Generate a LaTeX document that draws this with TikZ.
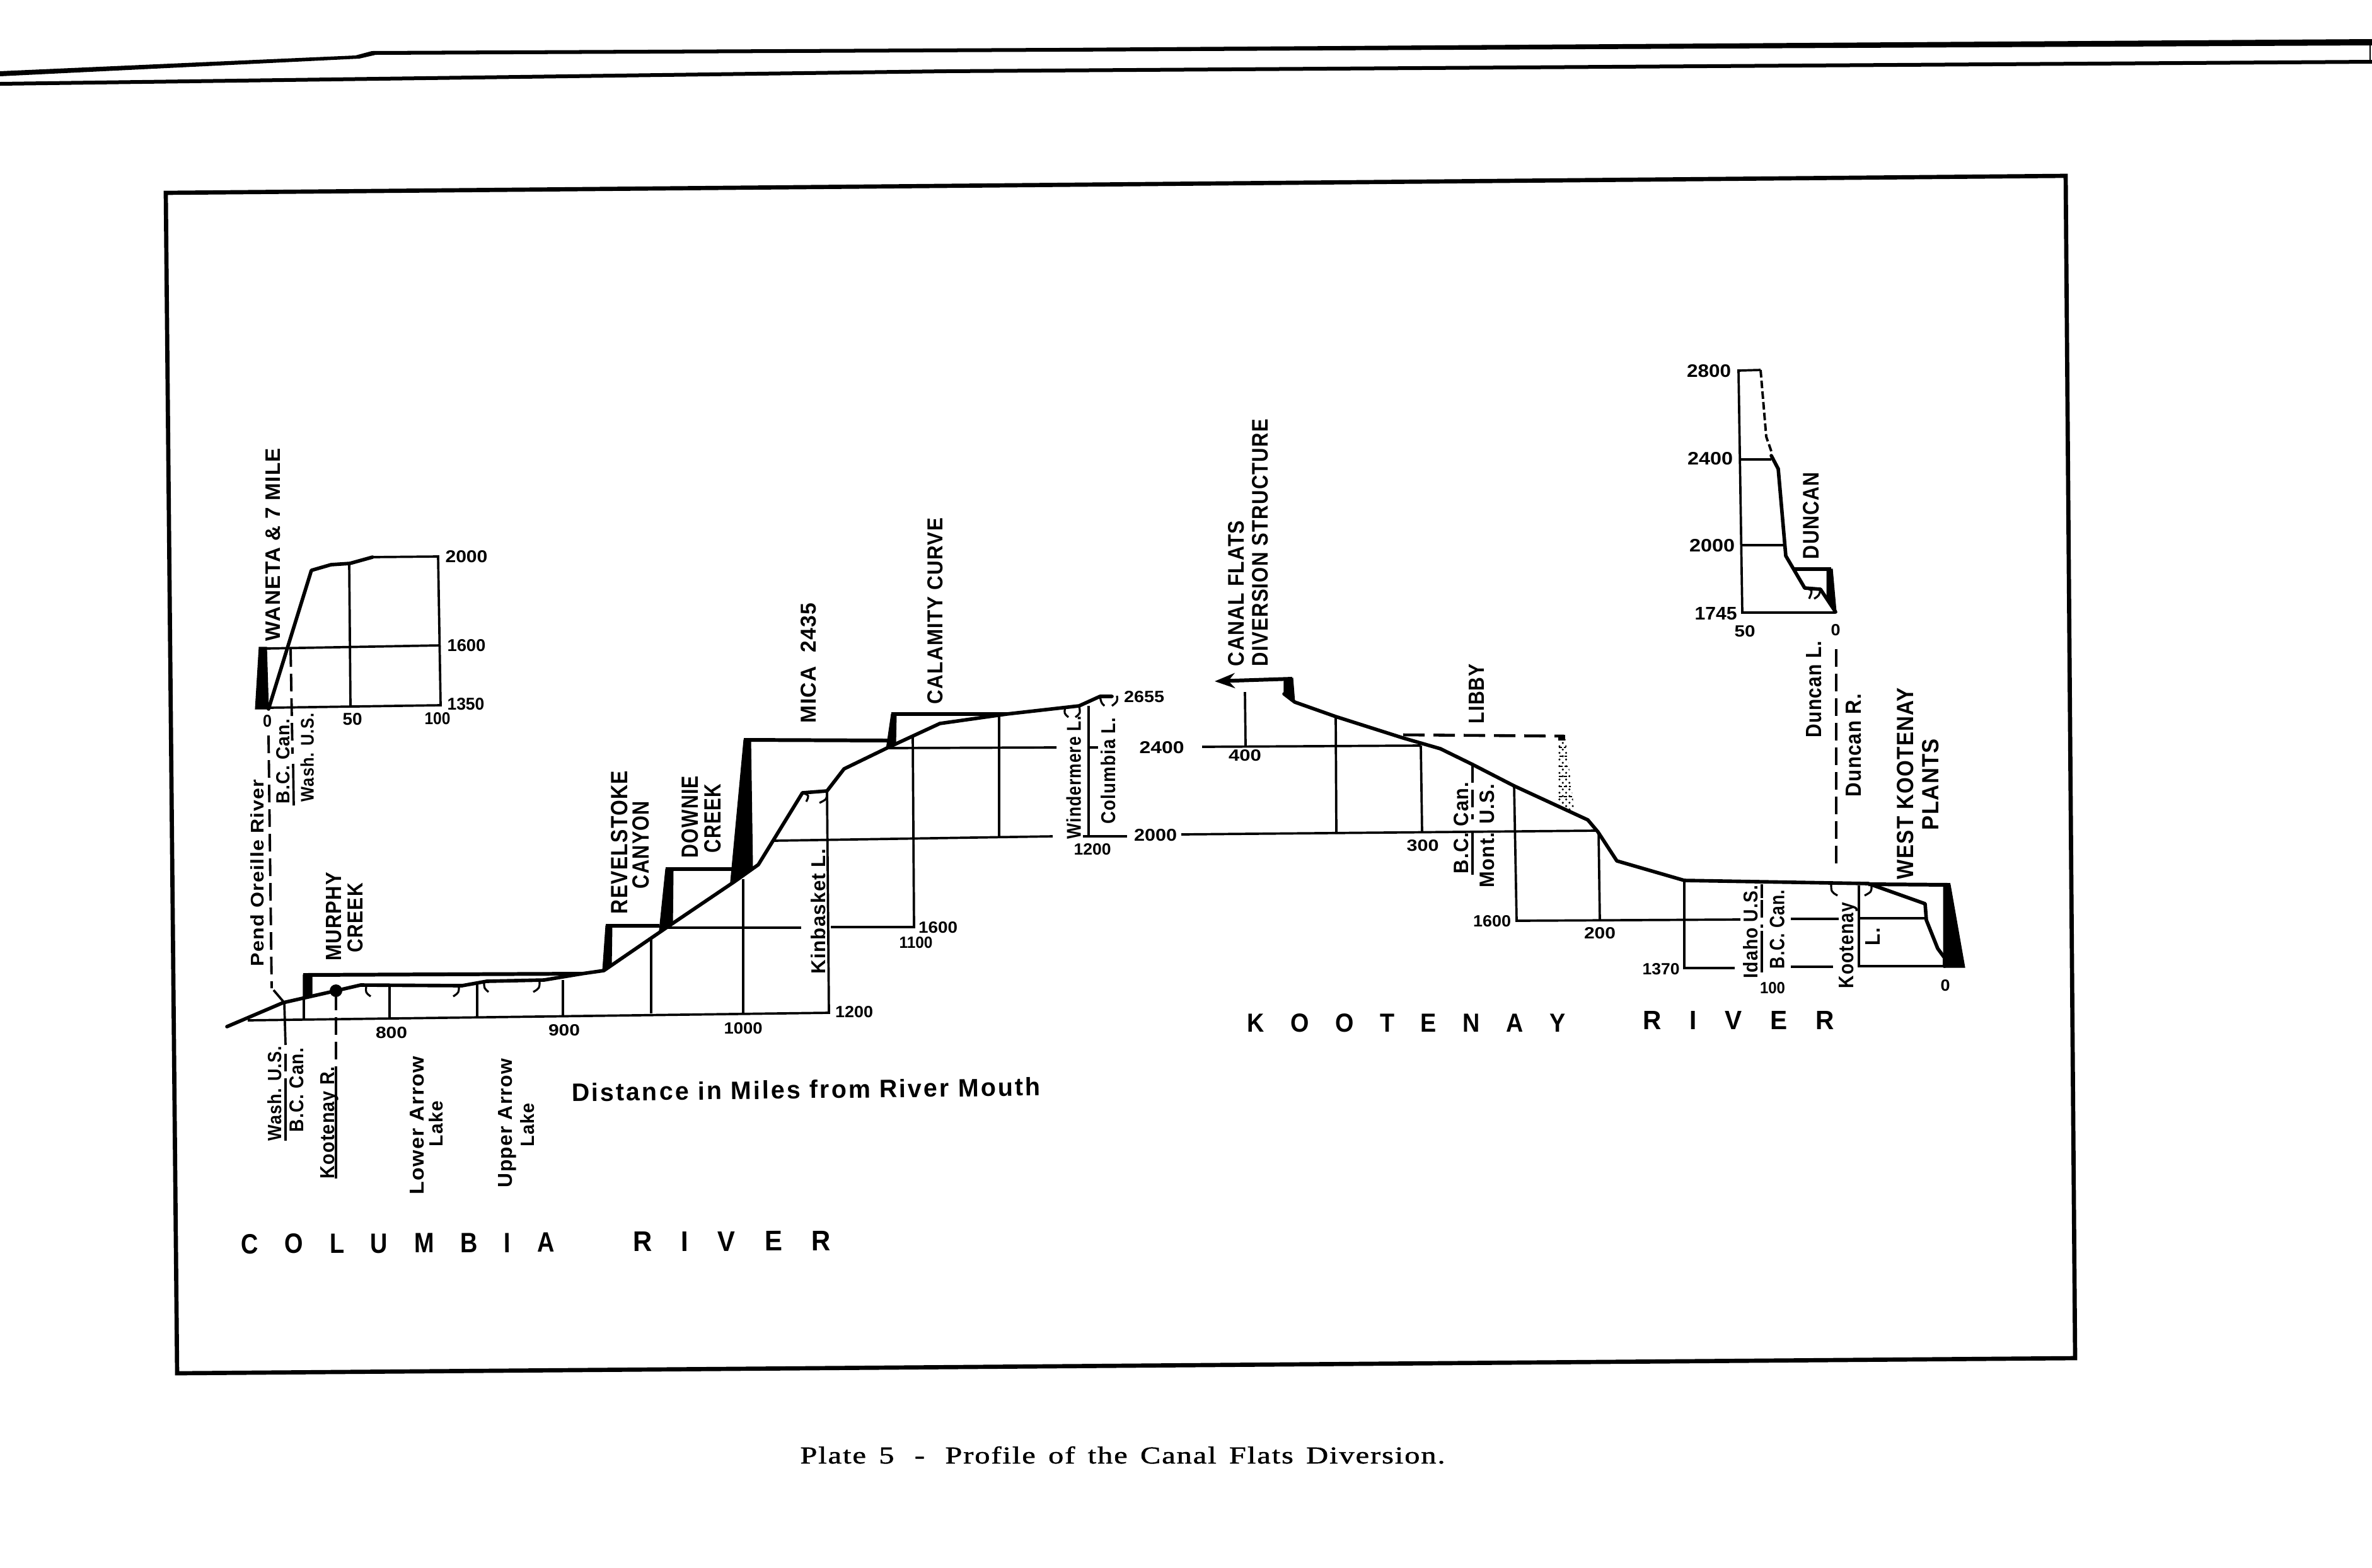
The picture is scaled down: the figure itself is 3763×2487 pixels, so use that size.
\documentclass[tikz,border=0pt]{standalone}
\usepackage{fontspec}
\setmainfont{Liberation Sans}
\newfontfamily\capfont[FakeBold=1.2,LetterSpace=4]{Liberation Serif}
\usetikzlibrary{patterns,arrows.meta}
\newcommand\vt[6]{% name, x centre, y top, y bottom, height, text
  \pgfmathsetlengthmacro\lenA{(#4-#3)*0.01cm}\pgfmathsetlengthmacro\lenB{#5*0.01cm}
  \node[lab,rotate=90] (#1) at ({#2+#5/2},{(#3+#4)/2}) {\resizebox{\lenA}{\lenB}{\bfseries\addfontfeature{LetterSpace=4}#6}};}
\newcommand\hz[6]{% name, x centre, y centre, width, height, text
  \pgfmathsetlengthmacro\lenA{#4*0.01cm}\pgfmathsetlengthmacro\lenB{#5*0.01cm}
  \node[lab] (#1) at (#2,{#3+#5/2}) {\resizebox{\lenA}{\lenB}{\bfseries #6}};}
\tikzset{
  lab/.style={anchor=base,inner sep=0pt,outer sep=0pt,text=black},
  riverline/.style={line width=1.6pt,line join=round,line cap=round},
  topline/.style={line width=1.7pt,line join=round},
  grid/.style={line width=1.05pt},
  dashline/.style={line width=1.1pt,dash pattern=on 0.28cm off 0.11cm},
  hook/.style={line width=.9pt},
  dam/.style={fill=black,draw=black,line width=.3pt},
}
\begin{document}
\begin{tikzpicture}[x=0.01cm,y=-0.01cm]
\useasboundingbox (0,0) rectangle (3763,2487);
\fill[white] (0,0) rectangle (3763,2487);
% page edge strips
\fill (0,113) -- (564,88) -- (590,81) -- (1680,76) -- (3763,62) -- (3763,72) -- (1680,82) -- (596,87) -- (570,93) -- (0,121) -- cycle;
\fill (0,130) -- (1500,110) -- (3763,95) -- (3763,101) -- (1500,116) -- (0,136) -- cycle;
\draw[line width=.5pt] (3760,70) -- (3760,98);
% frame
\draw[line width=1.9pt] (263,306) -- (3277,279) -- (3292,2155) -- (281,2179) -- cycle;

%% Waneta inset
\fill[dam] (411,1027) -- (423,1027) -- (426,1125) -- (405,1125) -- cycle;
\draw[grid] (426,1123) -- (699,1119) -- (695,883) -- (591,884);
\draw[riverline] (426,1125) -- (494,905) -- (525,896) -- (555,894) -- (591,884);
\draw[grid] (423,1029) -- (699,1024);
\draw[grid] (554,894) -- (556,1120);
\draw[dashline] (461,1030) -- (464,1196);
\draw[grid] (465,1212) -- (466,1278);
\draw[dashline] (426,1167) -- (431,1568);
\draw[grid] (434,1571) -- (451,1591);
\hz{w0}{424}{1144}{14}{19}{0}
\hz{w50}{559}{1141}{31}{19}{50}
\hz{w100}{694}{1140}{41}{19}{100}
\hz{w2000}{740}{883}{67}{19}{2000}
\hz{w1600}{740}{1024}{61}{19}{1600}
\hz{w1350}{739}{1117}{59}{19}{1350}
\vt{waneta}{432.5}{711}{1017}{23}{WANETA \& 7 MILE}
\vt{bcu}{449}{1141}{1275}{21}{B.C. Can.}
\vt{wau}{487}{1131}{1272}{21}{Wash. U.S.}
\vt{pend}{408}{1237}{1533}{21}{Pend Oreille River}

%% Columbia main
\draw[grid] (393,1619) -- (1315,1607) -- (1312,1255);
\draw[grid] (451,1591) -- (453,1658);
\draw[dashline] (453,1672) -- (453,1729);
\draw[grid] (453,1729) -- (453,1810);
\draw[grid] (482,1584) -- (482,1618);
\draw[dashline] (533,1575) -- (533,1720);
\draw[grid] (533,1720) -- (533,1870);
\draw[grid] (618,1566) -- (618,1615);
\draw[grid] (757,1558) -- (757,1613);
\draw[grid] (893,1555) -- (893,1611);
\draw[grid] (1033,1488) -- (1033,1608);
\draw[grid] (1179,1395) -- (1179,1607);
\draw[grid] (1057,1472) -- (1271,1472);
\draw[grid] (1318,1471) -- (1450,1471) -- (1448,1168);
\draw[grid] (1227,1334) -- (1670,1327);
\draw[grid] (1718,1327) -- (1788,1327);
\draw[grid] (1409,1187) -- (1676,1186);
\draw[grid] (1727,1186) -- (1742,1186);
\draw[grid] (1585,1136) -- (1585,1327);
\draw[grid] (1727,1120) -- (1727,1327);
% dams
\fill[dam] (481,1547) -- (495,1547) -- (495,1578) -- (481,1584) -- cycle;
\fill[dam] (961,1469) -- (971,1469) -- (970,1530) -- (956,1540) -- cycle;
\fill[dam] (1056,1379) -- (1068,1379) -- (1067,1467) -- (1046,1476) -- cycle;
\fill[dam] (1180,1174) -- (1191,1174) -- (1194,1377) -- (1159,1399) -- cycle;
\fill[dam] (1414,1133) -- (1422,1133) -- (1421,1179) -- (1406,1188) -- cycle;
% reservoir tops
\draw[topline] (481,1547) -- (923,1545);
\draw[topline] (961,1469) -- (1046,1469);
\draw[topline] (1056,1379) -- (1161,1379);
\draw[topline] (1180,1174) -- (1408,1175);
\draw[topline] (1414,1133) -- (1597,1133);
% river
\draw[riverline] (360,1629) -- (449,1591) -- (533,1572) -- (572,1563) -- (733,1564) -- (772,1557) -- (863,1555)
  -- (923,1545) -- (958,1540) -- (1060,1470) -- (1165,1399) -- (1203,1372) -- (1273,1258) -- (1312,1255)
  -- (1339,1220) -- (1409,1186) -- (1491,1148) -- (1597,1133) -- (1712,1120) -- (1745,1105) -- (1764,1105);
\fill (533,1572) circle (10);
% lake hooks
\draw[hook] (581,1565) .. controls (580,1575) .. (588,1581);
\draw[hook] (728,1565) .. controls (728,1575) .. (719,1581);
\draw[hook] (768,1559) .. controls (768,1568) .. (775,1574);
\draw[hook] (856,1557) .. controls (856,1568) .. (846,1574);
\draw[hook] (1273,1258) .. controls (1284,1262) .. (1279,1272);
\draw[hook] (1312,1256) .. controls (1312,1268) .. (1300,1274);
\draw[hook] (1690,1122) .. controls (1688,1132) .. (1695,1138);
\draw[hook] (1712,1120) .. controls (1714,1132) .. (1706,1138);
\draw[hook] (1745,1105) .. controls (1747,1115) .. (1752,1120);
\draw[hook] (1772,1104) .. controls (1773,1113) .. (1764,1120);
% labels
\hz{c800}{621}{1638}{50}{18}{800}
\hz{c900}{895}{1634}{50}{18}{900}
\hz{c1000}{1179}{1631}{61}{18}{1000}
\hz{c1200}{1355}{1605}{60}{18}{1200}
\hz{c1600}{1488}{1471}{62}{18}{1600}
\hz{c1100}{1453}{1495}{53}{18}{1100}
\hz{c2655}{1815}{1105}{64}{18}{2655}
\hz{c1200b}{1733}{1347}{59}{18}{1200}
\hz{c2400}{1843}{1186}{71}{19}{2400}
\hz{c2000}{1833}{1325}{68}{19}{2000}
\vt{murphy}{529}{1384}{1524}{24}{MURPHY}
\vt{creek}{563}{1401}{1511}{24}{CREEK}
\vt{revel}{982}{1223}{1450}{26}{REVELSTOKE}
\vt{canyon}{1016}{1271}{1410}{26}{CANYON}
\vt{downie}{1094}{1231}{1361}{26}{DOWNIE}
\vt{creekb}{1130}{1244}{1353}{26}{CREEK}
\vt{mica}{1282}{957}{1147}{24}{MICA\ \ 2435}
\vt{calam}{1483}{822}{1117}{24}{CALAMITY CURVE}
\vt{kinb}{1298}{1347}{1545}{23}{Kinbasket L.}
\vt{wind}{1703}{1136}{1331}{23}{Windermere L.}
\vt{coll}{1758}{1139}{1307}{23}{Columbia L.}
\vt{wush}{435}{1660}{1810}{22}{Wash. U.S.}
\vt{bcl}{470}{1663}{1796}{22}{B.C. Can.}
\vt{kootr}{519}{1692}{1870}{22}{Kootenay R.}
\vt{lowa}{661}{1676}{1895}{22}{Lower Arrow}
\vt{lowl}{691}{1747}{1819}{22}{Lake}
\vt{upa}{801}{1680}{1884}{22}{Upper Arrow}
\vt{upl}{836}{1750}{1819}{22}{Lake}
\pgfmathsetlengthmacro\lenA{744*0.01cm}\pgfmathsetlengthmacro\lenB{29*0.01cm}
\node[lab,rotate=0.7] (dist) at (1279,1743) {\resizebox{\lenA}{\lenB}{\bfseries\addfontfeature{LetterSpace=8}Distance in Miles from River Mouth}};
\pgfmathsetlengthmacro\lenA{497*0.01cm}\pgfmathsetlengthmacro\lenB{31*0.01cm}
\node[lab,rotate=0.3] (colr) at (631,1988) {\resizebox{\lenA}{\lenB}{\bfseries\spaceskip=1.1em C O L U M B I A}};
\pgfmathsetlengthmacro\lenA{313*0.01cm}
\node[lab,rotate=0.3] (rivc) at (1161,1985) {\resizebox{\lenA}{\lenB}{\bfseries\spaceskip=1.1em R I V E R}};

%% Kootenay main
\draw[grid] (1907,1185) -- (2254,1183);
\draw[grid] (1874,1324) -- (2532,1318);
\draw[grid] (1975,1098) -- (1976,1183);
\draw[grid] (2119,1137) -- (2120,1323);
\draw[grid] (2254,1183) -- (2256,1320);
\draw[dashline] (2336,1214) -- (2336,1300);
\draw[grid] (2336,1318) -- (2336,1388);
\draw[grid] (2402,1247) -- (2406,1461) -- (2761,1459);
\draw[grid] (2841,1458) -- (2917,1458);
\draw[grid] (2951,1457) -- (3056,1457);
\draw[grid] (2536,1320) -- (2538,1460);
\draw[grid] (2672,1397) -- (2672,1536) -- (2752,1536);
\draw[grid] (2841,1534) -- (2908,1534);
\draw[grid] (2949,1405) -- (2949,1533) -- (3116,1533);
\draw[grid] (2795,1403) -- (2795,1425);
\draw[dashline] (2795,1428) -- (2795,1472);
\draw[grid] (2795,1477) -- (2795,1543);
% canal flats
\draw[topline,-{Stealth[length=0.32cm,width=0.24cm]}] (2050,1077) -- (1927,1081);
\fill[dam] (2037,1077) -- (2051,1076) -- (2054,1114) -- (2037,1101) -- cycle;
% Libby
\fill[pattern=crosshatch dots,pattern color=black] (2472,1168) -- (2483,1168) -- (2498,1289) -- (2472,1280) -- cycle;
\foreach \yy/\xa/\xb in {1186/2473/2484,1200/2474/2486,1216/2474/2488,1232/2473/2490,1248/2473/2492,1264/2473/2494}
  \draw[line width=.8pt,dash pattern=on 0.05cm off 0.03cm] (\xa,\yy) -- (\xb,\yy);
\fill (2472,1166) rectangle (2483,1175);
\draw[line width=1.3pt,dash pattern=on 0.34cm off 0.14cm] (2226,1166) -- (2481,1168);
% river
\draw[riverline] (2037,1101) -- (2054,1114) -- (2119,1137) -- (2226,1171) -- (2285,1188) -- (2336,1213) -- (2402,1247)
  -- (2519,1301) -- (2535,1320) -- (2565,1366) -- (2672,1397) -- (2964,1402) -- (3054,1434) -- (3056,1460)
  -- (3074,1505) -- (3085,1520) -- (3085,1533);
% West Kootenay
\draw[topline] (2964,1403) -- (3094,1404);
\fill[dam] (3083,1404) -- (3094,1404) -- (3117,1535) -- (3083,1535) -- cycle;
\draw[hook] (2905,1402) .. controls (2905,1415) .. (2915,1421);
\draw[hook] (2969,1406) .. controls (2969,1415) .. (2958,1421);
\draw[dashline] (2913,1030) -- (2913,1378);
% labels
\hz{k400}{1975}{1198}{52}{18}{400}
\hz{k300}{2257}{1341}{51}{18}{300}
\hz{k1600}{2367}{1461}{60}{18}{1600}
\hz{k200}{2538}{1480}{50}{18}{200}
\hz{k1370}{2635}{1537}{59}{18}{1370}
\hz{k100}{2812}{1567}{40}{18}{100}
\hz{k0}{3086}{1563}{15}{18}{0}
\vt{canal}{1961}{826}{1057}{25}{CANAL FLATS}
\vt{divers}{1999}{665}{1057}{25}{DIVERSION STRUCTURE}
\vt{libby}{2342}{1053}{1148}{24}{LIBBY}
\vt{bck}{2318}{1241}{1386}{23}{B.C. Can.}
\vt{mont}{2359}{1244}{1408}{23}{Mont. U.S.}
\vt{idaho}{2777}{1405}{1552}{23}{Idaho U.S.}
\vt{bcr}{2819}{1412}{1537}{23}{B.C. Can.}
\vt{koot}{2929}{1432}{1568}{23}{Kootenay}
\vt{ll}{2971}{1472}{1500}{23}{L.}
\vt{wk}{3022}{1091}{1395}{26}{WEST KOOTENAY}
\vt{plants}{3062}{1172}{1317}{26}{PLANTS}
\pgfmathsetlengthmacro\lenA{505*0.01cm}\pgfmathsetlengthmacro\lenB{29*0.01cm}
\node[lab] (kootr2) at (2231,1637) {\resizebox{\lenA}{\lenB}{\bfseries\spaceskip=1.1em K O O T E N A Y}};
\pgfmathsetlengthmacro\lenA{303*0.01cm}
\node[lab] (rivk) at (2758,1633) {\resizebox{\lenA}{\lenB}{\bfseries\spaceskip=1.1em R I V E R}};

%% Duncan inset
\draw[grid] (2793,587) -- (2758,588) -- (2764,972) -- (2912,972);
\draw[line width=1.1pt,dash pattern=on 0.12cm off 0.05cm] (2793,587) -- (2802,693) -- (2810,716);
\draw[riverline] (2810,723) -- (2821,744) -- (2833,882) -- (2863,933) -- (2888,935) -- (2912,971);
\draw[grid] (2760,729) -- (2810,729);
\draw[grid] (2763,865) -- (2832,865);
\draw[topline] (2847,903) -- (2905,903);
\fill[dam] (2898,903) -- (2907,903) -- (2913,971) -- (2898,948) -- cycle;
\draw[hook] (2863,933) .. controls (2876,936) .. (2870,950);
\draw[hook] (2888,935) .. controls (2886,945) .. (2878,950);
\hz{d2800}{2711}{588}{70}{20}{2800}
\hz{d2400}{2713}{727}{72}{20}{2400}
\hz{d2000}{2716}{865}{72}{20}{2000}
\hz{d1745}{2722}{973}{67}{20}{1745}
\hz{d50}{2768}{1001}{33}{18}{50}
\hz{d0}{2912}{999}{15}{18}{0}
\vt{duncan}{2873}{749}{887}{25}{DUNCAN}
\vt{dunl}{2877}{1017}{1170}{24}{Duncan L.}
\vt{dunr}{2940}{1101}{1264}{24}{Duncan R.}

%% caption
\pgfmathsetlengthmacro\lenA{1023*0.01cm}\pgfmathsetlengthmacro\lenB{27*0.01cm}
\node[lab] (caption) at (1781,2322) {\resizebox{\lenA}{\lenB}{\capfont\spaceskip=.42em Plate 5\hspace{.25em} - \hspace{.25em}Profile of the Canal Flats Diversion.}};
\end{tikzpicture}
\end{document}
